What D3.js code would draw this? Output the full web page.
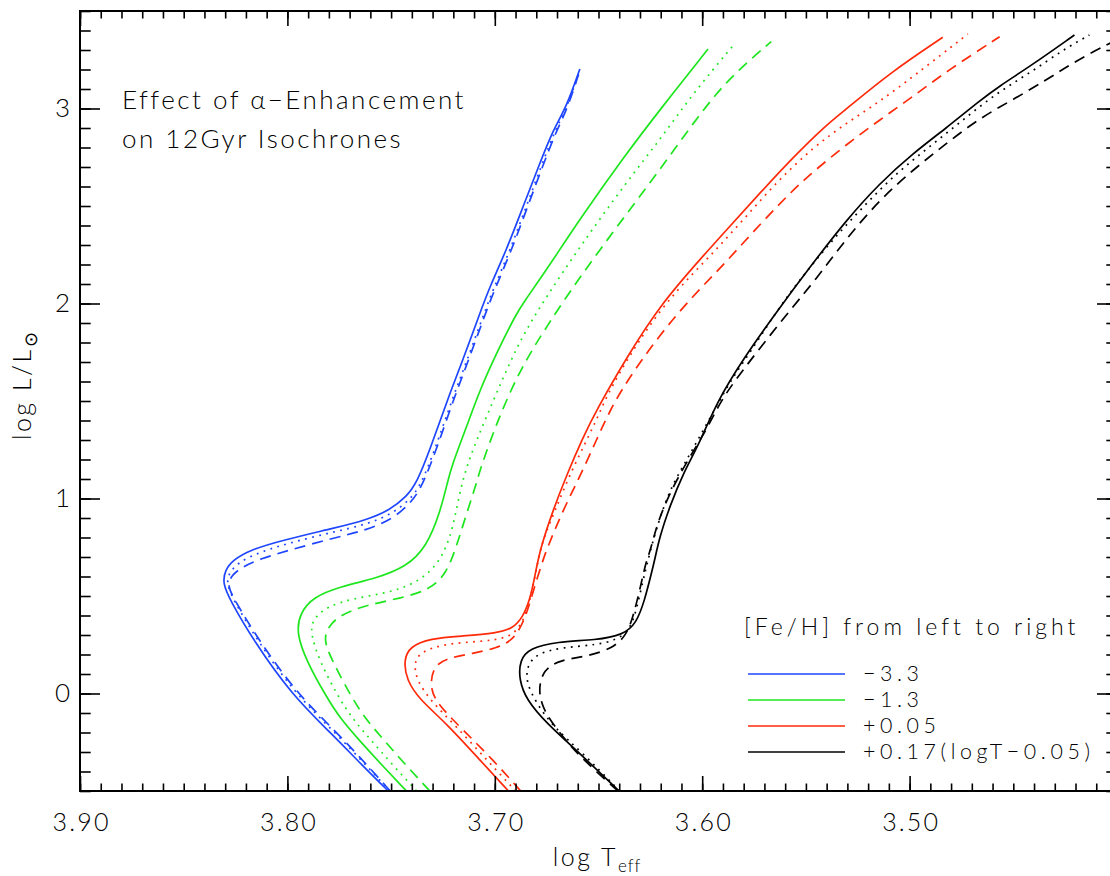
<!DOCTYPE html>
<html><head><meta charset="utf-8">
<script src="https://cdn.jsdelivr.net/npm/d3@7"></script>
<style>
html,body{margin:0;padding:0;background:#fff;}
text{font-family:Lato,"Open Sans",sans-serif;font-weight:300;fill:#000;}
</style></head>
<body><svg id="c" width="1110" height="876"></svg>
<script>
// ---- data: [log Teff, log L/Lsun] ----
const blueSolid = [[3.7514,-0.5],[3.7631,-0.377],[3.7790,-0.203],[3.7978,-0.008],[3.8165,0.274],[3.8277,0.480],[3.8312,0.565],[3.8301,0.633],[3.8261,0.685],[3.8181,0.736],[3.8020,0.787],[3.7779,0.847],[3.7618,0.890],[3.7506,0.941],[3.7426,1.009],[3.7377,1.078],[3.7313,1.249],[3.7217,1.540],[3.7160,1.693],[3.7072,1.950],[3.7024,2.086],[3.6944,2.274],[3.6864,2.496],[3.6783,2.719],[3.6719,2.890],[3.6654,3.009],[3.6590,3.203]];
const blueDotted = [[3.7506,-0.5],[3.7617,-0.372],[3.7773,-0.197],[3.7961,-0.003],[3.8147,0.274],[3.8260,0.480],[3.8294,0.562],[3.8282,0.618],[3.8239,0.669],[3.8157,0.715],[3.8012,0.767],[3.7779,0.828],[3.7618,0.867],[3.7496,0.921],[3.7410,0.992],[3.7357,1.069],[3.7289,1.249],[3.7198,1.531],[3.7140,1.690],[3.7053,1.946],[3.7005,2.079],[3.6928,2.269],[3.6851,2.490],[3.6774,2.710],[3.6711,2.885],[3.6651,3.008],[3.6590,3.197]];
const blueDashed = [[3.7504,-0.5],[3.7614,-0.369],[3.7769,-0.192],[3.7957,0.003],[3.8142,0.279],[3.8255,0.480],[3.8289,0.551],[3.8272,0.603],[3.8219,0.649],[3.8133,0.690],[3.7988,0.736],[3.7779,0.797],[3.7618,0.838],[3.7492,0.895],[3.7405,0.977],[3.7352,1.059],[3.7284,1.244],[3.7193,1.526],[3.7135,1.685],[3.7048,1.941],[3.7000,2.074],[3.6923,2.264],[3.6846,2.485],[3.6769,2.705],[3.6706,2.879],[3.6648,3.003],[3.6586,3.208]];

const greenSolid = [[3.7426,-0.5],[3.7554,-0.356],[3.7655,-0.238],[3.7747,-0.126],[3.7814,-0.013],[3.7906,0.162],[3.7957,0.310],[3.7940,0.411],[3.7876,0.495],[3.7747,0.548],[3.7570,0.591],[3.7426,0.650],[3.7329,0.753],[3.7265,0.924],[3.7225,1.095],[3.7209,1.163],[3.7136,1.368],[3.7072,1.556],[3.6992,1.745],[3.6895,1.950],[3.6864,2.001],[3.6751,2.172],[3.6590,2.433],[3.6365,2.770],[3.6205,2.992],[3.5972,3.305]];
const greenDotted = [[3.7377,-0.5],[3.7501,-0.356],[3.7598,-0.238],[3.7689,-0.126],[3.7757,-0.013],[3.7843,0.162],[3.7887,0.300],[3.7882,0.377],[3.7811,0.445],[3.7683,0.488],[3.7522,0.514],[3.7377,0.565],[3.7265,0.668],[3.7201,0.838],[3.7160,1.095],[3.7088,1.300],[3.6992,1.540],[3.6880,1.813],[3.6751,2.035],[3.6590,2.291],[3.6365,2.623],[3.6205,2.838],[3.6044,3.078],[3.5852,3.321]];
const greenDashed = [[3.7313,-0.5],[3.7439,-0.356],[3.7535,-0.238],[3.7627,-0.126],[3.7694,-0.013],[3.7781,0.162],[3.7827,0.274],[3.7803,0.343],[3.7747,0.403],[3.7618,0.454],[3.7458,0.488],[3.7313,0.531],[3.7233,0.616],[3.7185,0.753],[3.7136,0.924],[3.7088,1.078],[3.7072,1.146],[3.6992,1.386],[3.6880,1.659],[3.6751,1.881],[3.6590,2.137],[3.6365,2.459],[3.6205,2.685],[3.6044,2.924],[3.5883,3.146],[3.5667,3.343]];

const redSolid = [[3.6934,-0.5],[3.7072,-0.341],[3.7233,-0.153],[3.7361,-0.033],[3.7426,0.069],[3.7439,0.172],[3.7410,0.240],[3.7313,0.283],[3.7153,0.295],[3.6992,0.309],[3.6912,0.334],[3.6864,0.394],[3.6831,0.480],[3.6807,0.599],[3.6783,0.736],[3.6719,0.941],[3.6654,1.119],[3.6574,1.315],[3.6510,1.453],[3.6365,1.722],[3.6205,1.990],[3.5996,2.244],[3.5883,2.377],[3.5723,2.565],[3.5562,2.750],[3.5401,2.917],[3.5305,2.997],[3.5096,3.182],[3.4840,3.365]];
const redDotted = [[3.6899,-0.5],[3.7024,-0.358],[3.7185,-0.170],[3.7313,-0.033],[3.7377,0.069],[3.7390,0.155],[3.7361,0.214],[3.7233,0.257],[3.7072,0.266],[3.6944,0.283],[3.6888,0.326],[3.6847,0.411],[3.6815,0.548],[3.6791,0.685],[3.6769,0.787],[3.6708,0.941],[3.6643,1.112],[3.6561,1.290],[3.6494,1.440],[3.6446,1.560],[3.6285,1.848],[3.6124,2.069],[3.5964,2.240],[3.5803,2.428],[3.5642,2.622],[3.5466,2.800],[3.5305,2.925],[3.5145,3.035],[3.4984,3.163],[3.4719,3.382]];
const redDashed = [[3.6875,-0.5],[3.7008,-0.341],[3.7153,-0.187],[3.7281,-0.050],[3.7313,0.035],[3.7297,0.137],[3.7233,0.181],[3.7105,0.206],[3.6992,0.232],[3.6912,0.274],[3.6864,0.360],[3.6831,0.463],[3.6799,0.582],[3.6767,0.685],[3.6751,0.736],[3.6671,0.941],[3.6590,1.112],[3.6510,1.300],[3.6446,1.450],[3.6365,1.600],[3.6205,1.840],[3.6044,2.040],[3.5883,2.214],[3.5723,2.405],[3.5562,2.582],[3.5466,2.675],[3.5305,2.815],[3.5145,2.941],[3.4984,3.061],[3.4823,3.190],[3.4566,3.368]];

const blackSolid = [[3.6401,-0.5],[3.6590,-0.307],[3.6751,-0.153],[3.6847,-0.033],[3.6883,0.069],[3.6880,0.172],[3.6831,0.232],[3.6703,0.266],[3.6510,0.274],[3.6382,0.300],[3.6317,0.360],[3.6277,0.480],[3.6245,0.616],[3.6229,0.685],[3.6205,0.804],[3.6157,0.958],[3.6092,1.129],[3.6012,1.285],[3.5932,1.490],[3.5803,1.715],[3.5642,1.956],[3.5477,2.192],[3.5305,2.428],[3.5145,2.616],[3.4984,2.770],[3.4823,2.900],[3.4663,3.039],[3.4566,3.116],[3.4422,3.214],[3.4205,3.377]];
const blackDotted = [[3.6398,-0.5],[3.6581,-0.300],[3.6719,-0.170],[3.6799,-0.050],[3.6847,0.052],[3.6847,0.137],[3.6799,0.206],[3.6671,0.237],[3.6510,0.249],[3.6413,0.274],[3.6349,0.326],[3.6317,0.428],[3.6285,0.582],[3.6269,0.650],[3.6237,0.787],[3.6197,0.924],[3.6148,1.061],[3.6076,1.197],[3.6012,1.317],[3.5932,1.471],[3.5852,1.625],[3.5771,1.745],[3.5642,1.960],[3.5530,2.121],[3.5386,2.309],[3.5225,2.496],[3.5064,2.668],[3.4904,2.804],[3.4743,2.941],[3.4582,3.078],[3.4422,3.181],[3.4261,3.300],[3.4133,3.377]];
const blackDashed = [[3.6406,-0.5],[3.6590,-0.324],[3.6687,-0.204],[3.6767,-0.085],[3.6791,0.018],[3.6767,0.121],[3.6687,0.172],[3.6558,0.189],[3.6430,0.232],[3.6365,0.300],[3.6333,0.394],[3.6301,0.531],[3.6269,0.685],[3.6253,0.719],[3.6213,0.890],[3.6141,1.061],[3.6060,1.214],[3.5980,1.351],[3.5916,1.488],[3.5852,1.591],[3.5723,1.770],[3.5562,1.985],[3.5458,2.115],[3.5305,2.333],[3.5145,2.531],[3.4984,2.685],[3.4823,2.821],[3.4663,2.950],[3.4502,3.045],[3.4341,3.146],[3.4229,3.223],[3.4100,3.300],[3.4002,3.351]];

const fehLabels = ["\u22123.3", "\u22121.3", "+0.05", "+0.17(logT\u22120.05)"];
const xTickValues = [3.90, 3.80, 3.70, 3.60, 3.50];
const xTickLabels = ["3.90", "3.80", "3.70", "3.60", "3.50"];
const yTickValues = [0, 1, 2, 3];
const yTickLabels = ["0", "1", "2", "3"];

// ---- styles ----
const colors = ["#1e46ff", "#1ee61e", "#ff2a0a", "#000000"];
const dashes = [null, "1.8,5.4", "11,7"];

const series = [
  {feh:0, style:0, pts:blueSolid}, {feh:0, style:1, pts:blueDotted}, {feh:0, style:2, pts:blueDashed},
  {feh:1, style:0, pts:greenSolid}, {feh:1, style:1, pts:greenDotted}, {feh:1, style:2, pts:greenDashed},
  {feh:2, style:0, pts:redSolid}, {feh:2, style:1, pts:redDotted}, {feh:2, style:2, pts:redDashed},
  {feh:3, style:0, pts:blackSolid}, {feh:3, style:1, pts:blackDotted}, {feh:3, style:2, pts:blackDashed}
];

const L = 80, R = 1117, T = 11, B = 791;
const x = d3.scaleLinear().domain([3.90, 3.40]).range([L, R]);
const y = d3.scaleLinear().domain([-0.5, 3.5]).range([B, T]);

const svg = d3.select("#c");
svg.append("rect").attr("width",1110).attr("height",876).attr("fill","#fff");
svg.append("defs").append("clipPath").attr("id","clip")
  .append("rect").attr("x",L).attr("y",T).attr("width",R-L).attr("height",B-T);

const line = d3.line().x(d=>x(d[0])).y(d=>y(d[1])).curve(d3.curveBasis);
const g = svg.append("g").attr("clip-path","url(#clip)");
series.forEach(s=>{
  g.append("path").attr("d", line(s.pts)).attr("fill","none")
    .attr("stroke", colors[s.feh]).attr("stroke-width", 1.7)
    .attr("stroke-dasharray", dashes[s.style]);
});

// ---- axes ----
const xMinor = d3.range(3.90, 3.399, -0.01);
const yMinor = d3.range(-0.5, 3.501, 0.1);
function styleAxis(sel){ sel.select(".domain").remove(); sel.selectAll("line").attr("stroke","#000").attr("stroke-width",1.6); }

svg.append("g").attr("transform",`translate(0,${B})`)
  .call(d3.axisBottom(x).tickValues(xMinor).tickSize(-7.5).tickFormat("")).call(styleAxis);
svg.append("g").attr("transform",`translate(0,${B})`)
  .call(d3.axisBottom(x).tickValues(xTickValues).tickSize(-15).tickPadding(22)
  .tickFormat((d,i)=>xTickLabels[i])).call(styleAxis)
  .selectAll("text").attr("font-size",25).attr("font-family","Lato, sans-serif").attr("font-weight",300)
  .attr("letter-spacing",2.2).attr("dx",1.1);
svg.append("g").attr("transform",`translate(0,${T})`)
  .call(d3.axisTop(x).tickValues(xMinor).tickSize(-7.5).tickFormat("")).call(styleAxis);
svg.append("g").attr("transform",`translate(0,${T})`)
  .call(d3.axisTop(x).tickValues(xTickValues).tickSize(-15).tickFormat("")).call(styleAxis);

svg.append("g").attr("transform",`translate(${L},0)`)
  .call(d3.axisLeft(y).tickValues(yMinor).tickSize(-10.7).tickFormat("")).call(styleAxis);
svg.append("g").attr("transform",`translate(${L},0)`)
  .call(d3.axisLeft(y).tickValues(yTickValues).tickSize(-20).tickPadding(10)
  .tickFormat((d,i)=>yTickLabels[i])).call(styleAxis)
  .selectAll("text").attr("font-size",26).attr("font-family","Lato, sans-serif").attr("font-weight",300);
svg.append("g").attr("transform",`translate(${R},0)`)
  .call(d3.axisRight(y).tickValues(yMinor).tickSize(-10.7).tickFormat("")).call(styleAxis);
svg.append("g").attr("transform",`translate(${R},0)`)
  .call(d3.axisRight(y).tickValues(yTickValues).tickSize(-20).tickFormat("")).call(styleAxis);

svg.append("rect").attr("x",L).attr("y",T).attr("width",R-L).attr("height",B-T)
  .attr("fill","none").attr("stroke","#000").attr("stroke-width",2);

// axis titles
const xt = svg.append("text").attr("x",597).attr("y",866).attr("text-anchor","middle").attr("font-size",25).attr("letter-spacing",2.5);
xt.append("tspan").text("log T");
xt.append("tspan").attr("font-size",17).attr("dy",6).attr("letter-spacing",1).text("eff");
const yt = svg.append("text").attr("transform","translate(31,385) rotate(-90)").attr("text-anchor","middle").attr("font-size",25).attr("letter-spacing",2.5);
yt.append("tspan").text("log L/L");
yt.append("tspan").attr("font-size",18).attr("dy",6).text("\u2299");

// annotation
svg.append("text").attr("x",122).attr("y",109).attr("font-size",26).attr("letter-spacing",2.5)
  .text("Effect of \u03b1\u2212Enhancement");
svg.append("text").attr("x",122).attr("y",148).attr("font-size",26).attr("letter-spacing",2.5)
  .text("on 12Gyr Isochrones");

// legend
svg.append("text").attr("x",744).attr("y",635).attr("font-size",23).attr("letter-spacing",4)
  .text("[Fe/H] from left to right");
const legY = [674, 700, 726, 752];
fehLabels.forEach((lab,i)=>{
  svg.append("line").attr("x1",748).attr("x2",845).attr("y1",legY[i]).attr("y2",legY[i])
    .attr("stroke",colors[i]).attr("stroke-width",1.7);
  svg.append("text").attr("x",863).attr("y",legY[i]).attr("dy","0.33em").attr("font-size",21.4)
    .attr("letter-spacing",4.6).text(lab);
});
</script></body></html>
